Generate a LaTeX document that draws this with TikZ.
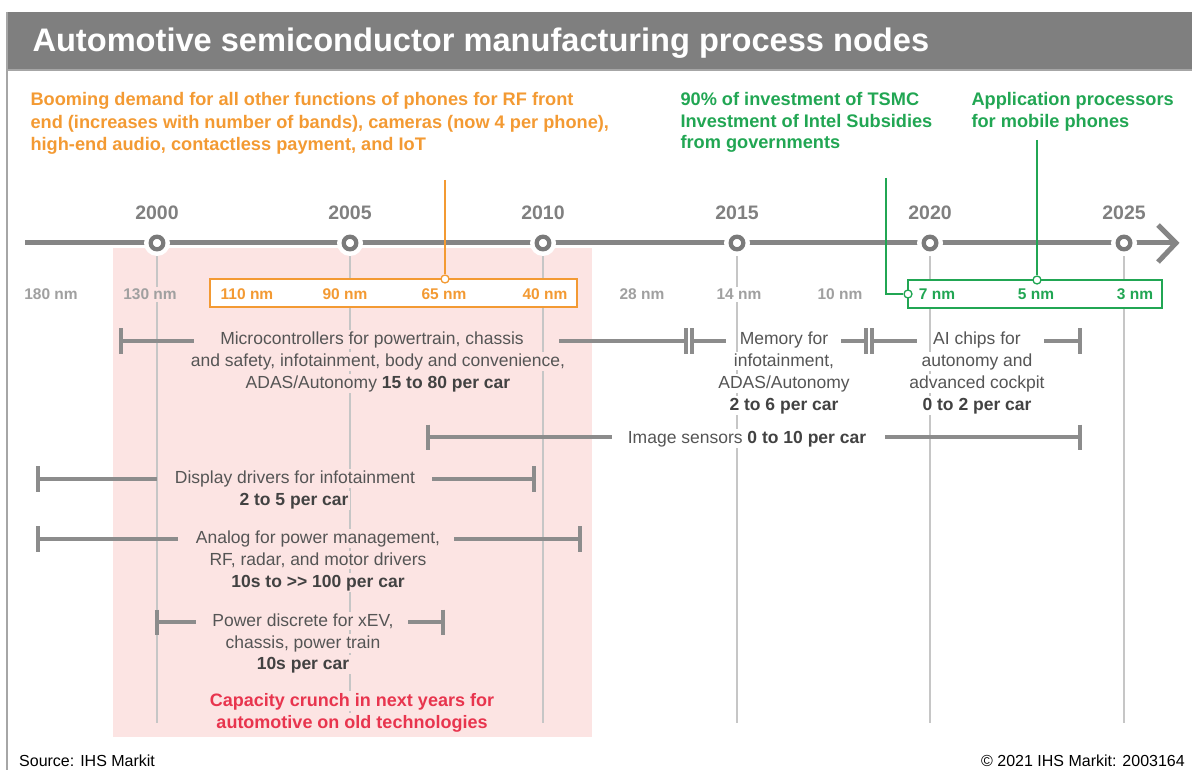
\documentclass[tikz,border=0pt]{standalone}
\usepackage{fontspec}
\setmainfont{Liberation Sans}
\usetikzlibrary{calc}

\definecolor{hdr}{HTML}{7F7F7F}
\definecolor{frame}{HTML}{A6A6A6}
\definecolor{pinkbg}{HTML}{FCE4E3}
\definecolor{axis}{HTML}{858585}
\definecolor{ring}{HTML}{7A7A7A}
\definecolor{yeartxt}{HTML}{808080}
\definecolor{nmtxt}{HTML}{A0A0A0}
\definecolor{guide}{HTML}{C6C6C6}
\definecolor{barc}{HTML}{8C8C8C}
\definecolor{txt}{HTML}{555555}
\definecolor{txtb}{HTML}{424242}
\definecolor{orng}{HTML}{F39A33}
\definecolor{grn}{HTML}{21A653}
\definecolor{crunch}{HTML}{E8354E}

\newcommand{\hb}[1]{\textbf{\color{txtb}#1}}

\tikzset{
  guideline/.style={draw=guide, line width=1.3pt},
  axisline/.style={draw=axis, line width=5pt},
  halo/.style={circle, fill=white, minimum size=26pt, inner sep=0pt},
  yearlbl/.style={anchor=base, font=\fontsize{19.5}{22}\selectfont\bfseries, text=yeartxt},
  nmlbl/.style={anchor=base, font=\fontsize{15.5}{18}\selectfont\bfseries, text=nmtxt, inner sep=2pt},
  bodytxt/.style={anchor=base, font=\fontsize{17.5}{20}\selectfont, text=txt, inner sep=1.5pt},
  bartrack/.style={draw=barc, line width=4pt},
  endcap/.style={draw=barc, line width=4pt},
  notetxt/.style={anchor=base west, font=\fontsize{18.2}{21}\selectfont\bfseries},
  pin/.style={circle, draw, fill=white, line width=1.3pt, minimum size=8pt, inner sep=0pt},
}

\begin{document}
\begin{tikzpicture}[x=1pt, y=-1pt]
\useasboundingbox (0,0) rectangle (1192,770);

% shaded era of mature nodes
\fill[pinkbg] (113,248) rectangle (592,737);

% title band and frame
\fill[hdr] (7,12) rectangle (1192,70);
\draw[frame, line width=1.5pt] (7,70) -- (1192,70);
\draw[frame, line width=2pt] (7,12) -- (7,770);
\node[anchor=base west, font=\fontsize{32.6}{38}\selectfont\bfseries, text=white] (title) at (29,52)
  {Automotive semiconductor manufacturing process nodes};

% year markers on the axis
\foreach \yr/\xx in {2000/157, 2005/350, 2010/543, 2015/737, 2020/930, 2025/1124}{
  \coordinate (c\yr) at (\xx,243);
  \coordinate (g\yr) at (\xx,723);
}
\foreach \yr in {2000,2005,2010,2015,2020,2025}{
  \draw[guideline] (c\yr) -- (g\yr);
}

% time axis with open arrow head
\coordinate (axL) at (25,243);
\coordinate (axR) at (1176,243);
\coordinate (chevT) at (1158,225);
\coordinate (chevB) at (1158,262);
\draw[axisline] (axL) -- (axR);
\draw[axisline, line join=miter] (chevT) -- (axR) -- (chevB);

\foreach \yr in {2000,2005,2010,2015,2020,2025}{
  \node[halo] (h\yr) at (c\yr) {};
  \draw[ring, line width=4.3pt] (c\yr) circle (6.3);
  \node[yearlbl] (y\yr) at ($(c\yr)+(0,-23.5)$) {\yr};
}

% highlighted node ranges
\draw[orng, line width=1.5pt, fill=white] (210,279) rectangle (577,307);
\draw[grn, line width=1.5pt, fill=white] (908,280) rectangle (1162,308);

% callout leaders
\coordinate (oTop) at (445,180);
\node[pin, draw=orng] (oPin) at (445,279) {};
\draw[orng, line width=1.3pt] (oTop) -- (oPin);

\coordinate (gTopA) at (1037,140);
\node[pin, draw=grn] (gPinA) at (1037,280) {};
\draw[grn, line width=1.3pt] (gTopA) -- (gPinA);

\coordinate (gTopB) at (886,178);
\node[pin, draw=grn] (gPinB) at (908,294) {};
\draw[grn, line width=1.3pt] (gTopB) |- (gPinB);

% process node labels
\node[nmlbl, fill=white]  (n180) at (51,299.5) {180 nm};
\node[nmlbl, fill=pinkbg] (n130) at (150,299.5) {130 nm};
\node[nmlbl, text=orng]   (n110) at (247,299.5) {110 nm};
\node[nmlbl, text=orng]   (n90)  at (345,299.5) {90 nm};
\node[nmlbl, text=orng]   (n65)  at (444,299.5) {65 nm};
\node[nmlbl, text=orng]   (n40)  at (545,299.5) {40 nm};
\node[nmlbl, fill=white]  (n28)  at (642,299.5) {28 nm};
\node[nmlbl, fill=white]  (n14)  at (739,299.5) {14 nm};
\node[nmlbl, fill=white]  (n10)  at (840,299.5) {10 nm};
\node[nmlbl, text=grn]    (n7)   at (937,299.5) {7 nm};
\node[nmlbl, text=grn]    (n5)   at (1036,299.5) {5 nm};
\node[nmlbl, text=grn]    (n3)   at (1135,299.5) {3 nm};

% callout texts
\node[notetxt, text=orng] (oa) at (27,106)   {Booming demand for all other functions of phones for RF front};
\node[notetxt, text=orng] (ob) at (27,128.5) {end (increases with number of bands), cameras (now 4 per phone),};
\node[notetxt, text=orng] (oc) at (27,151)   {high-end audio, contactless payment, and IoT};

\node[notetxt, text=grn] (ga) at (677,106)   {90\% of investment of TSMC};
\node[notetxt, text=grn] (gb) at (677,127.5) {Investment of Intel Subsidies};
\node[notetxt, text=grn] (gc) at (677,149)   {from governments};

\node[notetxt, text=grn] (pa) at (968,106)   {Application processors};
\node[notetxt, text=grn] (pb) at (968,127.5) {for mobile phones};

% ---- usage ranges ----
% microcontrollers | memory | AI chips
\coordinate (mcL) at (121,341);
\coordinate (mcLa) at (194,341);
\coordinate (mcRa) at (559,341);
\coordinate (dbA1) at (686,341);
\coordinate (dbA2) at (692,341);
\coordinate (meLa) at (726,341);
\coordinate (meRa) at (841,341);
\coordinate (dbB1) at (866,341);
\coordinate (dbB2) at (872,341);
\coordinate (aiLa) at (917,341);
\coordinate (aiRa) at (1044,341);
\coordinate (aiR) at (1080,341);
\draw[bartrack] (mcL) -- (mcLa);
\draw[bartrack] (mcRa) -- (dbA1);
\draw[bartrack] (dbA2) -- (meLa);
\draw[bartrack] (meRa) -- (dbB1);
\draw[bartrack] (dbB2) -- (aiLa);
\draw[bartrack] (aiRa) -- (aiR);
\foreach \p in {mcL,dbA1,dbA2,dbB1,dbB2,aiR}{
  \draw[endcap] ($(\p)+(0,-13)$) -- ($(\p)+(0,13)$);
}
\node[bodytxt, fill=pinkbg] (mc1) at (372,344) {Microcontrollers for powertrain, chassis};
\node[bodytxt, fill=pinkbg] (mc2) at (378,366) {and safety, infotainment, body and convenience,};
\node[bodytxt, fill=pinkbg] (mc3) at (378,388) {ADAS/Autonomy \hb{15 to 80 per car}};

\node[bodytxt, fill=white] (me1) at (784,344) {Memory for};
\node[bodytxt, fill=white] (me2) at (784,366) {infotainment,};
\node[bodytxt, fill=white] (me3) at (784,388) {ADAS/Autonomy};
\node[bodytxt, fill=white] (me4) at (784,410) {\hb{2 to 6 per car}};

\node[bodytxt, fill=white] (ai1) at (977,344) {AI chips for};
\node[bodytxt, fill=white] (ai2) at (977,366) {autonomy and};
\node[bodytxt, fill=white] (ai3) at (977,388) {advanced cockpit};
\node[bodytxt, fill=white] (ai4) at (977,410) {\hb{0 to 2 per car}};

% image sensors
\coordinate (isL) at (428,437);
\coordinate (isLa) at (612,437);
\coordinate (isRa) at (885,437);
\coordinate (isR) at (1080,437);
\draw[bartrack] (isL) -- (isLa);
\draw[bartrack] (isRa) -- (isR);
\foreach \p in {isL,isR}{
  \draw[endcap] ($(\p)+(0,-12.5)$) -- ($(\p)+(0,12.5)$);
}
\node[bodytxt, fill=white] (is1) at (747,443) {Image sensors \hb{0 to 10 per car}};

% display drivers
\coordinate (ddL) at (38,479);
\coordinate (ddLa) at (157,479);
\coordinate (ddRa) at (432,479);
\coordinate (ddR) at (534,479);
\draw[bartrack] (ddL) -- (ddLa);
\draw[bartrack] (ddRa) -- (ddR);
\foreach \p in {ddL,ddR}{
  \draw[endcap] ($(\p)+(0,-13)$) -- ($(\p)+(0,13)$);
}
\node[bodytxt, fill=pinkbg] (dd1) at (295,483) {Display drivers for infotainment};
\node[bodytxt, fill=pinkbg] (dd2) at (294,505) {\hb{2 to 5 per car}};

% analog
\coordinate (anL) at (38,539);
\coordinate (anLa) at (178,539);
\coordinate (anRa) at (454,539);
\coordinate (anR) at (580,539);
\draw[bartrack] (anL) -- (anLa);
\draw[bartrack] (anRa) -- (anR);
\foreach \p in {anL,anR}{
  \draw[endcap] ($(\p)+(0,-13)$) -- ($(\p)+(0,13)$);
}
\node[bodytxt, fill=pinkbg] (an1) at (318,543) {Analog for power management,};
\node[bodytxt, fill=pinkbg] (an2) at (318,565) {RF, radar, and motor drivers};
\node[bodytxt, fill=pinkbg] (an3) at (318,587) {\hb{10s to >{}> 100 per car}};

% power discrete
\coordinate (pdL) at (157,622);
\coordinate (pdLa) at (196,622);
\coordinate (pdRa) at (408,622);
\coordinate (pdR) at (443,622);
\draw[bartrack] (pdL) -- (pdLa);
\draw[bartrack] (pdRa) -- (pdR);
\foreach \p in {pdL,pdR}{
  \draw[endcap] ($(\p)+(0,-12.5)$) -- ($(\p)+(0,12.5)$);
}
\node[bodytxt, fill=pinkbg] (pd1) at (303,626) {Power discrete for xEV,};
\node[bodytxt, fill=pinkbg] (pd2) at (303,648) {chassis, power train};
\node[bodytxt, fill=pinkbg] (pd3) at (303,669) {\hb{10s per car}};

% capacity note
\node[anchor=base, font=\fontsize{18}{21}\selectfont\bfseries, text=crunch, fill=pinkbg, inner sep=1.5pt] (cc1) at (352,706) {Capacity crunch in next years for};
\node[anchor=base, font=\fontsize{18}{21}\selectfont\bfseries, text=crunch, fill=pinkbg, inner sep=1.5pt] (cc2) at (352,728) {automotive on old technologies};

% footer
\node[anchor=base west, font=\fontsize{16}{19}\selectfont, text=black, inner sep=0pt] (src) at (19,766) {Source: IHS Markit};
\node[anchor=base east, font=\fontsize{16}{19}\selectfont, text=black, inner sep=0pt] (cpy) at (1185,766) {\textcopyright{} 2021 IHS Markit: 2003164};
\end{tikzpicture}
\end{document}
